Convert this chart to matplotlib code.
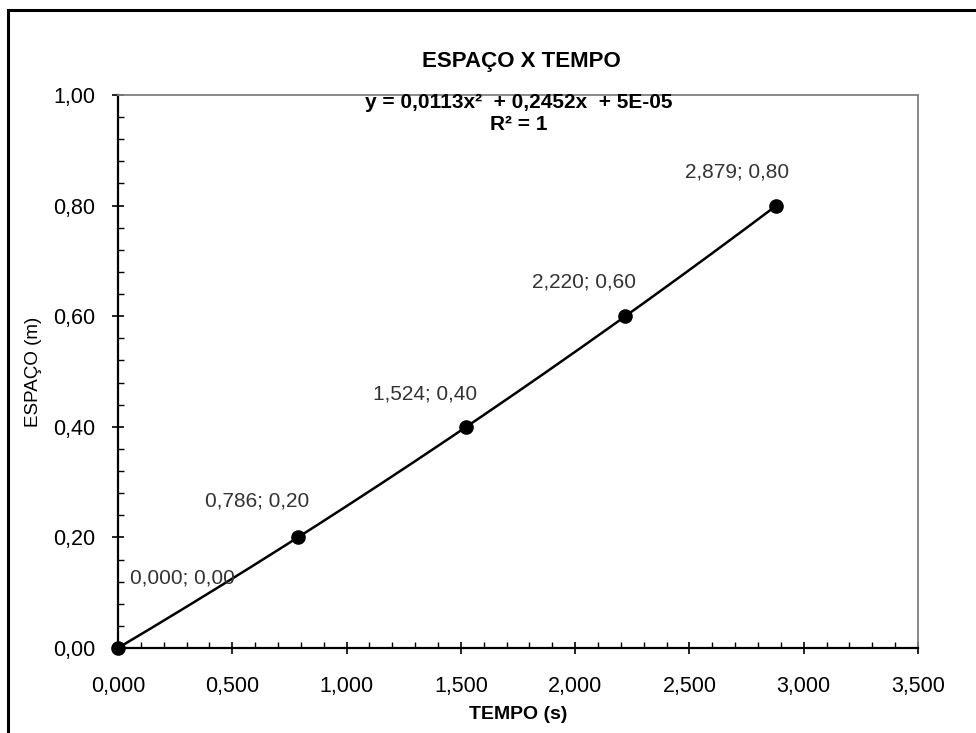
import numpy as np
import matplotlib
matplotlib.use("Agg")
import matplotlib.pyplot as plt
from matplotlib.ticker import MultipleLocator, FuncFormatter
from matplotlib.patches import Rectangle

plt.rcParams['font.family'] = ['Liberation Sans', 'DejaVu Sans']

# Data
tempo = [0.000, 0.786, 1.524, 2.220, 2.879]
espaco = [0.00, 0.20, 0.40, 0.60, 0.80]
point_labels = ["0,000; 0,00", "0,786; 0,20", "1,524; 0,40", "2,220; 0,60", "2,879; 0,80"]
trend_coeffs = [0.0113, 0.2452, 5e-05]   # y = a x^2 + b x + c
title = "ESPAÇO X TEMPO"
equation = "y = 0,0113x²  + 0,2452x  + 5E-05"
r2_text = "R² = 1"
xlabel = "TEMPO (s)"
ylabel = "ESPAÇO (m)"

W, H = 976, 733
fig = plt.figure(figsize=(W / 100, H / 100), dpi=100)
ax = fig.add_axes([118 / W, 1 - 648 / H, 800 / W, 553 / H])

# Outer chart border (extends beyond right/bottom edges)
fig.patches.append(Rectangle((7.5 / W, -0.05), 1.1, 1 - 10 / H + 0.05,
                             transform=fig.transFigure, fill=False,
                             edgecolor='black', linewidth=2.2))

# Trendline
xs = np.linspace(min(tempo), max(tempo), 200)
ys = np.polyval(trend_coeffs, xs)
ax.plot(xs, ys, color='black', linewidth=1.8, zorder=2)
ax.plot(tempo, espaco, linestyle='none', marker='o', markersize=9.5,
        color='black', zorder=3, clip_on=False)

# Data labels (offsets in pixels)
offsets = [(64, 70), (-41, 36), (-41, 33), (-41, 34), (-39, 34)]
for x, y, lab, (dx, dy) in zip(tempo, espaco, point_labels, offsets):
    ax.annotate(lab, (x, y), xytext=(dx, dy), textcoords='offset pixels',
                ha='center', va='center', fontsize=15, color='#333333')

ax.set_xlim(0, 3.5)
ax.set_ylim(0, 1.0)
ax.xaxis.set_major_locator(MultipleLocator(0.5))
ax.xaxis.set_minor_locator(MultipleLocator(0.1))
ax.yaxis.set_major_locator(MultipleLocator(0.2))
ax.yaxis.set_minor_locator(MultipleLocator(0.04))
ax.xaxis.set_major_formatter(FuncFormatter(lambda v, p: f"{v:.3f}".replace('.', ',')))
ax.yaxis.set_major_formatter(FuncFormatter(lambda v, p: f"{v:.2f}".replace('.', ',')))

ax.tick_params(axis='both', which='major', direction='inout', length=9, width=1.2,
               labelsize=15.5, color='black')
ax.tick_params(axis='both', which='minor', direction='in', length=4.5, width=1.0,
               color='black')
ax.tick_params(axis='x', which='major', pad=16)
ax.tick_params(axis='y', which='major', pad=12)

for s in ['left', 'bottom']:
    ax.spines[s].set_color('black')
    ax.spines[s].set_linewidth(1.6)
for s in ['top', 'right']:
    ax.spines[s].set_color('#808080')
    ax.spines[s].set_linewidth(1.3)

ax.set_xlabel(xlabel, fontsize=14, fontweight='bold', labelpad=6)
ax.set_ylabel(ylabel, fontsize=13.5, labelpad=8)

fig.text(521 / W, 1 - 62 / H, title, ha='center', va='center',
         fontsize=16, fontweight='bold')
fig.text(519 / W, 1 - 103 / H, equation, ha='center', va='center',
         fontsize=15, fontweight='bold')
fig.text(519 / W, 1 - 125 / H, r2_text, ha='center', va='center',
         fontsize=15, fontweight='bold')

fig.savefig("out.png", dpi=100)
